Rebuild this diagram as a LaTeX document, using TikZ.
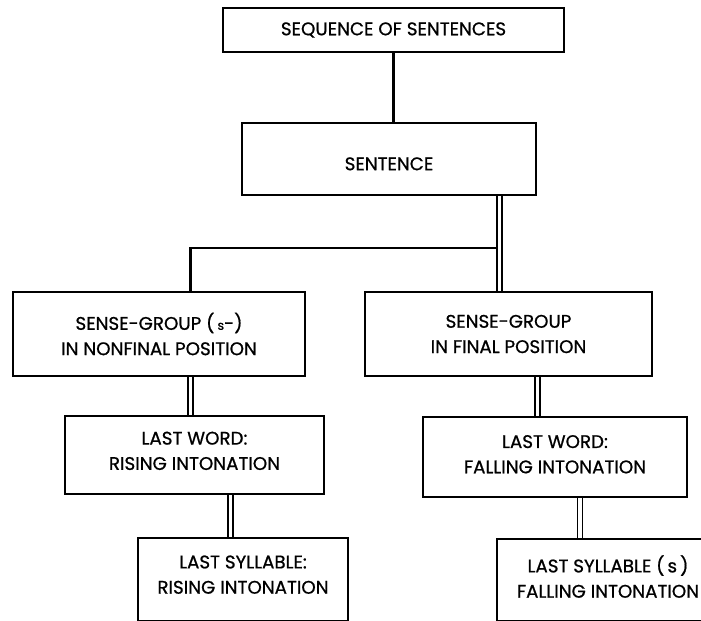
\documentclass[tikz,border=0pt]{standalone}
\usepackage{fontspec}
\setmainfont{Poppins}
\newfontfamily\boxfont{Poppins}[FakeBold=0.8]
\usetikzlibrary{positioning}

\tikzset{
  box/.style={draw, line width=1.5pt, align=center, inner sep=0pt,
    font=\boxfont\fontsize{13}{18}\selectfont},
  link/.style={line width=1.5pt},
  dbl/.style={double, line width=1pt, double distance=2.4pt},
}

\begin{document}
\begin{tikzpicture}[x=0.025cm, y=-0.025cm]
    % 1. Page frame (pixel units, y grows downwards)
    \useasboundingbox (0,0) rectangle (701,620);
    \clip (0,0) rectangle (701,620);

    % 2. The boxes
    \node[box, minimum width=8.525cm, minimum height=1.1cm] (seq) at (393.5,30) {SEQUENCE OF SENTENCES};
    \node[box, minimum width=7.35cm, minimum height=1.8cm, text height=16pt] (sent) at (389,159) {SENTENCE};
    \node[box, minimum width=7.3cm, minimum height=2.1cm] (sgnf) at (159,334)
        {SENSE-GROUP (\,{\small s}-)\\IN NONFINAL POSITION};
    \node[box, minimum width=7.175cm, minimum height=2.1cm] (sgf) at (508.5,334)
        {SENSE-GROUP\\IN FINAL POSITION};
    \node[box, minimum width=6.475cm, minimum height=1.95cm, text depth=6pt] (lwr) at (194.5,455)
        {LAST WORD:\\RISING INTONATION};
    \node[box, minimum width=6.6cm, minimum height=2cm, text depth=4pt] (lwf) at (555,457)
        {LAST WORD:\\FALLING INTONATION};
    \node[box, minimum width=5.25cm, minimum height=2.075cm, text depth=7pt] (lsr) at (243,579.5)
        {LAST SYLLABLE:\\RISING INTONATION};
    \node[box, minimum width=5.55cm, minimum height=2.05cm, text depth=5pt] (lsf) at (608,580)
        {LAST SYLLABLE (\,s\,)\\FALLING INTONATION};

    % 3. Branch points of the connectors
    \coordinate (fork) at (499.5,248);
    \coordinate (left) at (190.5,248);
    \coordinate (dr) at (537.5,0);
    \coordinate (sl) at (230.5,0);
    \coordinate (sr) at (580,0);

    % 4. Connectors: single lines first, double lines on top
    \draw[link] (seq.south) -- (seq.south |- sent.north);
    \draw[link] (fork) -- (left) -- (left |- sgnf.north);
    \draw[dbl] (sent.south -| fork) -- (sgf.north -| fork);
    \draw[dbl] (sgnf.south -| left) -- (lwr.north -| left);
    \draw[dbl] (sgf.south -| dr) -- (lwf.north -| dr);
    \draw[dbl] (lwr.south -| sl) -- (lsr.north -| sl);
    \draw[dbl] (lwf.south -| sr) -- (lsf.north -| sr);
\end{tikzpicture}
\end{document}
